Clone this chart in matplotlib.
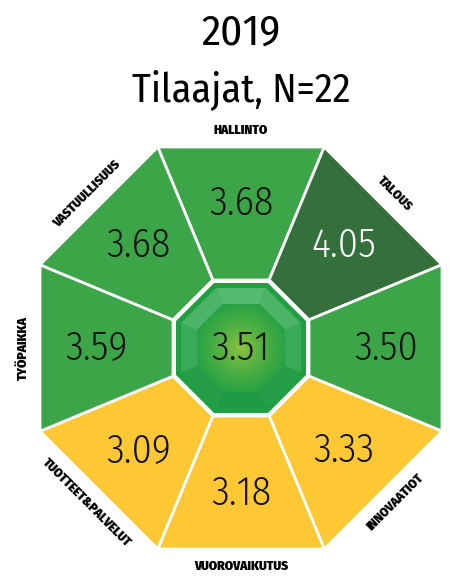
import numpy as np
import matplotlib
matplotlib.use("Agg")
import matplotlib.pyplot as plt
from matplotlib.patches import Polygon

# data, clockwise from the top
categories = ["HALLINTO", "TALOUS", "", "INNOVAATIOT", "VUOROVAIKUTUS",
              "TUOTTEET&PALVELUT", "TYÖPAIKKA", "VASTUULLISUUS"]
values = [3.68, 4.05, 3.50, 3.33, 3.18, 3.09, 3.59, 3.68]
overall = 3.51
year = "2019"
subtitle = "Tilaajat, N=22"

NUM_FONT = ["Fira Sans Condensed", "Roboto Condensed", "DejaVu Sans"]
LAB_FONT = ["Fira Sans Condensed", "Roboto Condensed", "DejaVu Sans"]
W, H = 449, 587
cx, cy = 241, 348
R_OUT, R_IN = 201, 68          # apothems of the octagons
R_CORE, R_FACET, R_GEM = 65, 60, 44


def color_for(v):
    if v >= 4.0:
        return "#356f3b"
    if v >= 3.5:
        return "#3ba548"
    return "#fdc834"


def octagon(apothem):
    rc = apothem / np.cos(np.radians(22.5))
    ang = np.radians(90 - 45 * np.arange(8) + 22.5)
    return np.column_stack([cx + rc * np.cos(ang), cy - rc * np.sin(ang)])


def corner(apothem, i, side):
    rc = apothem / np.cos(np.radians(22.5))
    a = np.radians(90 - 45 * i + side * 22.5)
    return (cx + rc * np.cos(a), cy - rc * np.sin(a))


fig = plt.figure(figsize=(W / 100, H / 100), dpi=100)
ax = fig.add_axes([0, 0, 1, 1])
ax.set_xlim(0, W)
ax.set_ylim(H, 0)
ax.axis("off")

n = len(values)
for i, (cat, v) in enumerate(zip(categories, values)):
    pts = [corner(R_IN, i, 1), corner(R_OUT, i, 1),
           corner(R_OUT, i, -1), corner(R_IN, i, -1)]
    ax.add_patch(Polygon(pts, closed=True, facecolor=color_for(v),
                         edgecolor="white", linewidth=2, joinstyle="miter"))
    phi = np.radians(90 - 45 * i)
    tx, ty = cx + 145 * np.cos(phi), cy - 145 * np.sin(phi)
    ax.text(tx, ty, f"{v:.2f}", ha="center", va="center", fontsize=29,
            family=NUM_FONT, fontweight=300,
            color="white" if v >= 4.0 else "#111111")
    if cat:
        rot = (90 - 45 * i) - 90
        while rot > 90:
            rot -= 180
        while rot <= -90:
            rot += 180
        lx, ly = cx + 218 * np.cos(phi), cy - 218 * np.sin(phi)
        ax.text(lx, ly, cat, ha="center", va="center", rotation=rot,
                rotation_mode="anchor", fontsize=9.5, fontweight=900,
                family=LAB_FONT, color="black")

# centre gem
ax.add_patch(Polygon(octagon(R_IN + 1), closed=True, facecolor="white",
                     edgecolor="none"))
ax.add_patch(Polygon(octagon(R_CORE), closed=True, facecolor="#1f9e42",
                     edgecolor="none"))
for i in range(n):
    pts = [corner(R_GEM, i, 1), corner(R_FACET, i, 1),
           corner(R_FACET, i, -1), corner(R_GEM, i, -1)]
    light = 0.5 + 0.5 * np.cos(np.radians(45 * i))
    base = np.array([0.12, 0.60, 0.26])
    hi = np.array([0.33, 0.73, 0.43])
    ax.add_patch(Polygon(pts, closed=True, facecolor=base + (hi - base) * light,
                         edgecolor="none"))
gem = Polygon(octagon(R_GEM), closed=True, facecolor="none", edgecolor="none")
ax.add_patch(gem)
yy, xx = np.mgrid[-1:1:200j, -1:1:200j]
rr = np.clip(np.sqrt(xx ** 2 + yy ** 2), 0, 1)
inner_c = np.array([0.58, 0.78, 0.24])
outer_c = np.array([0.14, 0.63, 0.27])
img = inner_c + (outer_c - inner_c) * rr[..., None] ** 0.7
im = ax.imshow(img, extent=[cx - R_GEM - 4, cx + R_GEM + 4, cy + R_GEM + 4, cy - R_GEM - 4],
               interpolation="bilinear", zorder=2)
im.set_clip_path(gem)
ax.text(cx, cy, f"{overall:.2f}", ha="center", va="center", fontsize=29,
        family=NUM_FONT, fontweight=300, color="#111111", zorder=3)

# titles
ax.text(cx, 33, year, ha="center", va="center", fontsize=31, family=NUM_FONT)
ax.text(cx, 102, subtitle, ha="center", va="baseline", fontsize=29, family=NUM_FONT)

fig.savefig("out.png", dpi=100)
